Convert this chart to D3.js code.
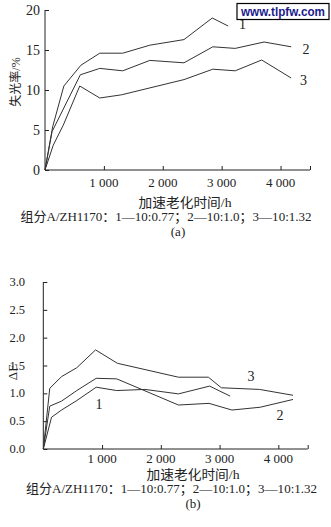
<!DOCTYPE html>
<html><head><meta charset="utf-8">
<script src="https://cdn.jsdelivr.net/npm/d3@7"></script>
<style>
html,body{margin:0;padding:0;background:#fff;}
svg{display:block;}
</style></head>
<body>
<script>
// ---- data ----
const xTicks = [1000, 2000, 3000, 4000];
const xTickLabels = ["1 000", "2 000", "3 000", "4 000"];
const yTicksA = [0, 5, 10, 15, 20];
const yTicksB = [0, 0.5, 1.0, 1.5, 2.0, 2.5, 3.0];

// (a) 失光率 /%
const a1 = [[0,0],[130,5.4],[320,10.5],[610,13.1],[930,14.6],[1320,14.6],[1780,15.6],[2360,16.3],[2840,19.0],[3110,18.0]];
const a2 = [[0,0],[120,4.8],[600,11.9],[930,12.7],[1320,12.4],[1780,13.7],[2360,13.4],[2850,15.4],[3230,15.2],[3720,16.0],[4180,15.4]];
const a3 = [[0,0],[140,3.1],[310,5.6],[590,10.5],[930,9.0],[1300,9.4],[2360,11.3],[2850,12.6],[3230,12.4],[3680,13.75],[4180,11.5]];

// (b) ΔE
const b1 = [[0,0],[140,0.57],[310,0.70],[570,0.87],[900,1.11],[1250,1.05],[1730,1.07],[2300,0.99],[2830,1.13],[3180,0.95]];
const b2 = [[0,0],[110,0.77],[310,0.86],[570,1.05],[900,1.27],[1250,1.26],[2300,0.79],[2820,0.82],[3210,0.70],[3690,0.75],[4250,0.89]];
const b3 = [[0,0],[110,1.09],[310,1.30],[570,1.46],[890,1.78],[1260,1.54],[2300,1.29],[2810,1.29],[3030,1.10],[3680,1.07],[4250,0.965]];

const xTitle = "加速老化时间/h";
const caption = "组分A/ZH1170：1—10:0.77；2—10:1.0；3—10:1.32";

const W = 331, H = 527;
const svg = d3.select("body").append("svg").attr("width", W).attr("height", H);
const serif = "'Liberation Serif','Noto Sans CJK SC',serif";
const cjk = "'Liberation Serif','Noto Sans CJK SC',sans-serif";
const ink = "#222";

function panel(cfg) {
  const x = d3.scaleLinear().domain([0, 4500]).range([cfg.x0, cfg.x1]);
  const y = d3.scaleLinear().domain(cfg.yDom).range([cfg.y0, cfg.y1]);
  const g = svg.append("g");

  // x axis (ticks inward/up)
  const xa = g.append("g").attr("transform", `translate(0,${cfg.y0})`)
    .call(d3.axisBottom(x).tickValues(xTicks.concat([4500])).tickSize(-4).tickFormat(""));
  xa.select(".domain").attr("d", `M${cfg.x0},0H${cfg.x1}`);
  xa.selectAll("path,line").attr("stroke", ink).attr("stroke-width", 1);
  g.selectAll(".xl").data(xTicks).enter().append("text")
    .attr("x", d => x(d)).attr("y", cfg.xLabY).attr("text-anchor", "middle")
    .attr("dominant-baseline", "central")
    .style("font-family", serif).style("font-size", "13px").attr("fill", ink)
    .text((d, i) => xTickLabels[i]);

  // y axis (ticks inward/right)
  const ya = g.append("g").attr("transform", `translate(${cfg.x0},0)`)
    .call(d3.axisLeft(y).tickValues(cfg.yTicks).tickSize(-4).tickFormat(""));
  ya.select(".domain").attr("d", `M0,${cfg.y1}V${cfg.y0}`);
  ya.selectAll("path,line").attr("stroke", ink).attr("stroke-width", 1);
  g.selectAll(".yl").data(cfg.yTicks).enter().append("text")
    .attr("x", cfg.yLabX).attr("y", d => y(d)).attr("text-anchor", "end")
    .attr("dominant-baseline", "central")
    .style("font-family", serif).style("font-size", cfg.yFont).attr("fill", ink)
    .text(cfg.yFmt);

  const line = d3.line().x(d => x(d[0])).y(d => y(d[1]));
  cfg.series.forEach(s => {
    g.append("path").attr("d", line(s)).attr("fill", "none")
      .attr("stroke", "#333").attr("stroke-width", 1).attr("stroke-linejoin", "miter");
  });
  cfg.labels.forEach(l => {
    g.append("text").attr("x", l[0]).attr("y", l[1]).attr("text-anchor", "middle")
      .attr("dominant-baseline", "central")
      .style("font-family", serif).style("font-size", "14px").attr("fill", ink).text(l[2]);
  });

  // y title
  g.append("text").attr("transform", `translate(${cfg.yTitle[0]},${cfg.yTitle[1]}) rotate(-90)`)
    .attr("text-anchor", "middle").attr("dominant-baseline", "central")
    .style("font-family", cjk).style("font-size", cfg.yTitleFont).attr("fill", ink)
    .text(cfg.yTitleText);
  // x title
  g.append("text").attr("x", cfg.xTitle[0]).attr("y", cfg.xTitle[1])
    .attr("text-anchor", "middle").attr("dominant-baseline", "central")
    .attr("textLength", 93).attr("lengthAdjust", "spacingAndGlyphs")
    .style("font-family", cjk).style("font-size", "13px").attr("fill", ink).text(xTitle);
  // caption
  g.append("text").attr("x", cfg.cap[0]).attr("y", cfg.cap[1])
    .attr("text-anchor", "start").attr("dominant-baseline", "central")
    .attr("textLength", 291).attr("lengthAdjust", "spacingAndGlyphs")
    .style("font-family", cjk).style("font-size", "13px").attr("fill", ink).text(caption);
  g.append("text").attr("x", cfg.sub[0]).attr("y", cfg.sub[1])
    .attr("text-anchor", "middle").attr("dominant-baseline", "central")
    .style("font-family", serif).style("font-size", "13px").attr("fill", ink).text(cfg.sub[2]);
}

panel({
  x0: 45, x1: 310, y0: 170, y1: 10, yDom: [0, 20], yTicks: yTicksA,
  yLabX: 40, yFont: "14px", yFmt: d => d3.format("d")(d), xLabY: 182,
  series: [a1, a2, a3],
  labels: [[242.5, 24, "1"], [306, 49.5, "2"], [303.5, 80, "3"]],
  yTitle: [16, 82], yTitleFont: "12px", yTitleText: "失光率/%",
  xTitle: [185, 202], cap: [20.5, 216], sub: [178, 231, "(a)"]
});

panel({
  x0: 43.3, x1: 307.7, y0: 449, y1: 282, yDom: [0, 3], yTicks: yTicksB,
  yLabX: 25, yFont: "12.5px", yFmt: d => d3.format(".1f")(d), xLabY: 458.5,
  series: [b1, b2, b3],
  labels: [[99, 404, "1"], [280, 415, "2"], [251, 376, "3"]],
  yTitle: [12.5, 372], yTitleFont: "13px", yTitleText: "ΔE",
  xTitle: [193, 474], cap: [26, 488.5], sub: [193, 503, "(b)"]
});

// watermark
svg.append("rect").attr("x", 237).attr("y", 3.5).attr("width", 92).attr("height", 16)
  .attr("fill", "#fff").attr("stroke", "#000").attr("stroke-width", 1.2);
svg.append("text").attr("x", 283).attr("y", 12).attr("text-anchor", "middle")
  .attr("dominant-baseline", "central").attr("textLength", 84).attr("lengthAdjust", "spacingAndGlyphs")
  .style("font-family", "'Liberation Sans',Arial,sans-serif").style("font-weight", "bold")
  .style("font-size", "12px").attr("fill", "#1a1a8c").text("www.tlpfw.com");
</script>
</body></html>
